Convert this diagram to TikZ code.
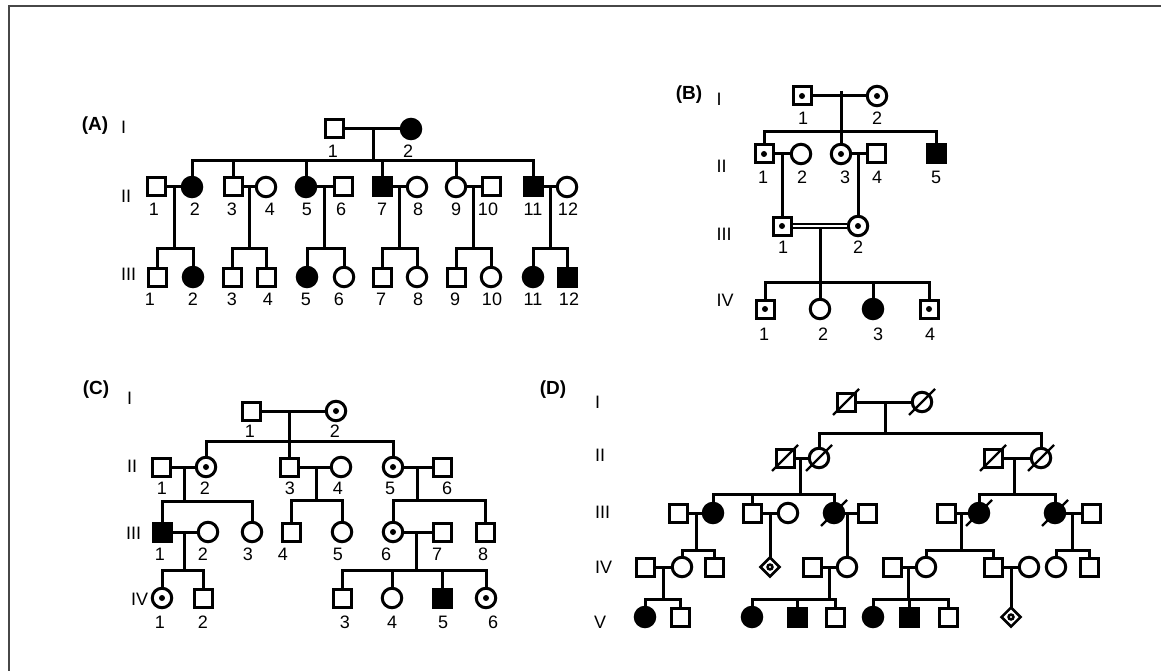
\documentclass[tikz,border=0pt]{standalone}
\usepackage{fontspec}
\setmainfont{Liberation Sans}
\usetikzlibrary{shapes.geometric}
\begin{document}
\begin{tikzpicture}[x=1pt,y=-1pt,
  ln/.style={line width=3pt},
  dbl/.style={draw, double, double distance=2pt, line width=2.1pt, shorten <=1.5pt, shorten >=1.5pt},
  slash/.style={line width=2.3pt},
  sym/.style={draw, line width=3pt, inner sep=0pt, outer sep=0pt},
  sq/.style={sym, rectangle, minimum size=18pt},
  ci/.style={sym, circle, minimum size=19.5pt},
  sqa/.style={sq, fill=black},
  cia/.style={ci, fill=black},
  sqc/.style={sq, path picture={\fill (path picture bounding box.center) circle (3pt);}},
  cic/.style={ci, path picture={\fill (path picture bounding box.center) circle (3pt);}},
  dm/.style={sym, diamond, aspect=1, minimum size=19pt, line width=2.5pt,
    path picture={\fill (path picture bounding box.center) circle (3.8pt);
                  \fill[white] (path picture bounding box.center) circle (1.2pt);}},
  num/.style={inner sep=0pt, font=\fontsize{18}{20}\selectfont},
  gen/.style={num, anchor=west},
  panel/.style={inner sep=0pt, font=\fontsize{19}{21}\selectfont\bfseries},
  frame/.style={draw=black!72, line width=2pt}
]
\useasboundingbox (0,0) rectangle (1161,671);
\draw[frame] (9,671) -- (9,6) -- (1161,6);

% ================= pedigree (A) =================
\node[panel] (Alab) at (95,126) {(A)};
\node[gen] (AgI) at (121,127) {I};
\node[gen] (AgII) at (121,196) {II};
\node[gen] (AgIII) at (121,274) {III};

\node[sq]  (aI1) at (334,129) {};
\node[cia] (aI2) at (411,129) {};
\foreach \n/\x/\s in {1/156/sq, 2/192/cia, 3/233/sq, 4/266/ci, 5/306/cia, 6/343/sq,
                      7/382/sqa, 8/417/ci, 9/456/ci, 10/491/sq, 11/533/sqa, 12/567/ci}
  \node[\s] (aII\n) at (\x,187) {};
\foreach \n/\x/\s in {1/157/sq, 2/193/cia, 3/232/sq, 4/266/sq, 5/307/cia, 6/344/ci,
                      7/382/sq, 8/417/ci, 9/456/sq, 10/491/ci, 11/533/cia, 12/567/sqa}
  \node[\s] (aIII\n) at (\x,277) {};

\coordinate (amI) at (373,129);
\coordinate (asI) at (373,161);
\draw[ln] (aI1) -- (aI2);
\draw[ln] (amI) -- (asI);
\draw[ln] (aII2.north) |- (asI) -| (aII11.north);
\foreach \n in {3,5,7,9} \draw[ln] (aII\n.north) -- (aII\n |- asI);

\foreach \p/\q/\m in {1/2/174, 3/4/249.5, 5/6/324.5, 7/8/399.5, 9/10/473.5, 11/12/550}{
  \draw[ln] (aII\p) -- (aII\q);
  \coordinate (amII\p) at (\m,187);
  \coordinate (asII\p) at (\m,248);
  \draw[ln] (amII\p) -- (asII\p);
  \draw[ln] (aIII\p.north) |- (asII\p) -| (aIII\q.north);
}

\node[num] (aIn1) at (333,151) {1};
\node[num] (aIn2) at (408,151) {2};
\foreach \t/\x in {1/154, 2/195, 3/232, 4/270, 5/307, 6/341, 7/382, 8/418, 9/456, 10/488, 11/533, 12/568}
  \node[num] (aIIn\t) at (\x,209) {\t};
\foreach \t/\x in {1/150, 2/193, 3/232, 4/268, 5/306, 6/339, 7/381, 8/418, 9/455, 10/492, 11/533, 12/569}
  \node[num] (aIIIn\t) at (\x,299) {\t};

% ================= pedigree (B) =================
\begin{scope}[yshift=-29pt]
\node[panel] (Blab) at (689,66) {(B)};
\node[gen] (BgI) at (716.5,70) {I};
\node[gen] (BgII) at (716.5,137) {II};
\node[gen] (BgIII) at (716.5,205) {III};
\node[gen] (BgIV) at (716.5,271) {IV};

\node[sqc] (bI1) at (802,67) {};
\node[cic] (bI2) at (877,67) {};
\node[sqc] (bII1) at (764,125) {};
\node[ci]  (bII2) at (801,125) {};
\node[cic] (bII3) at (841,125) {};
\node[sq]  (bII4) at (876,125) {};
\node[sqa] (bII5) at (936,125) {};
\node[sqc] (bIII1) at (782,197) {};
\node[cic] (bIII2) at (858,197) {};
\node[sqc] (bIV1) at (765,280) {};
\node[ci]  (bIV2) at (820,280) {};
\node[cia] (bIV3) at (873,280) {};
\node[sqc] (bIV4) at (929,280) {};

\coordinate (bmI) at (841,62);
\coordinate (bsI) at (841,103);
\draw[ln] (bI1) -- (bI2);
\draw[ln] (bmI) -- (bsI);
\draw[ln] (bII1.north) |- (bsI) -| (bII5.north);
\draw[ln] (bsI) -- (bII3.north);

\draw[ln] (bII1) -- (bII2);
\coordinate (bmII1) at (782,125);
\draw[ln] (bmII1) -- (bIII1.north);
\draw[ln] (bII3) -- (bII4);
\coordinate (bmII3) at (858,125);
\draw[ln] (bmII3) -- (bIII2.north);

\draw[dbl] (bIII1) -- (bIII2);
\coordinate (bmIII) at (820,200);
\coordinate (bsIII) at (820,253);
\draw[ln] (bmIII) -- (bIV2.north);
\draw[ln] (bIV1.north) |- (bsIII) -| (bIV4.north);
\draw[ln] (bIV3.north) -- (bIV3 |- bsIII);

\node[num] (bIn1) at (803,89) {1};
\node[num] (bIn2) at (877,89) {2};
\foreach \t/\x in {1/763, 2/802, 3/845, 4/877, 5/936}
  \node[num] (bIIn\t) at (\x,148) {\t};
\node[num] (bIIIn1) at (783,218) {1};
\node[num] (bIIIn2) at (858,218) {2};
\foreach \t/\x in {1/764, 2/823, 3/878, 4/930}
  \node[num] (bIVn\t) at (\x,305) {\t};
\end{scope}

% ================= pedigree (C) =================
\node[panel] (Clab) at (96,390) {(C)};
\node[gen] (CgI) at (127,398) {I};
\node[gen] (CgII) at (127,466) {II};
\node[gen] (CgIII) at (126,533) {III};
\node[gen] (CgIV) at (131,599) {IV};

\node[sq]  (cI1) at (251,411) {};
\node[cic] (cI2) at (336,411) {};
\foreach \n/\x/\s in {1/161/sq, 2/206/cic, 3/289/sq, 4/341/ci, 5/393/cic, 6/442/sq}
  \node[\s] (cII\n) at (\x,467) {};
\foreach \n/\x/\s in {1/162/sqa, 2/208/ci, 3/252/ci, 4/291/sq, 5/342/ci, 6/393/cic, 7/442/sq, 8/485/sq}
  \node[\s] (cIII\n) at (\x,532) {};
\foreach \n/\x/\s in {1/162/cic, 2/203/sq, 3/342/sq, 4/392/ci, 5/442/sqa, 6/486/cic}
  \node[\s] (cIV\n) at (\x,598) {};

\coordinate (cmI) at (289,411);
\coordinate (csI) at (289,441);
\draw[ln] (cI1) -- (cI2);
\draw[ln] (cmI) -- (csI);
\draw[ln] (cII2.north) |- (csI) -| (cII5.north);
\draw[ln] (csI) -- (cII3.north);

\draw[ln] (cII1) -- (cII2);
\coordinate (cmII1) at (184,467);
\coordinate (csII1) at (184,501);
\draw[ln] (cmII1) -- (csII1);
\draw[ln] (cIII1.north) |- (csII1) -| (cIII3.north);

\draw[ln] (cII3) -- (cII4);
\coordinate (cmII3) at (316,467);
\coordinate (csII3) at (316,500);
\draw[ln] (cmII3) -- (csII3);
\draw[ln] (cIII4.north) |- (csII3) -| (cIII5.north);

\draw[ln] (cII5) -- (cII6);
\coordinate (cmII5) at (417,467);
\coordinate (csII5) at (417,500);
\draw[ln] (cmII5) -- (csII5);
\draw[ln] (cIII6.north) |- (csII5) -| (cIII8.north);

\draw[ln] (cIII1) -- (cIII2);
\coordinate (cmIII1) at (184,532);
\coordinate (csIII1) at (184,570);
\draw[ln] (cmIII1) -- (csIII1);
\draw[ln] (cIV1.north) |- (csIII1) -| (cIV2.north);

\draw[ln] (cIII6) -- (cIII7);
\coordinate (cmIII6) at (416,532);
\coordinate (csIII6) at (416,570);
\draw[ln] (cmIII6) -- (csIII6);
\draw[ln] (cIV3.north) |- (csIII6) -| (cIV6.north);
\foreach \n in {4,5} \draw[ln] (cIV\n.north) -- (cIV\n |- csIII6);

\node[num] (cIn1) at (250,431) {1};
\node[num] (cIn2) at (335,431) {2};
\foreach \t/\x in {1/162, 2/205, 3/290, 4/338, 5/390, 6/447}
  \node[num] (cIIn\t) at (\x,488) {\t};
\foreach \t/\x in {1/160, 2/203, 3/248, 4/283, 5/338, 6/386, 7/437, 8/483}
  \node[num] (cIIIn\t) at (\x,554) {\t};
\foreach \t/\x in {1/160, 2/203, 3/345, 4/392, 5/443, 6/493}
  \node[num] (cIVn\t) at (\x,622) {\t};

% ================= pedigree (D) =================
\node[panel] (Dlab) at (553,390) {(D)};
\node[gen] (DgI) at (595,402) {I};
\node[gen] (DgII) at (595,455) {II};
\node[gen] (DgIII) at (595,512) {III};
\node[gen] (DgIV) at (595,567) {IV};
\node[gen] (DgV) at (594,622) {V};

\node[sq] (dI1) at (846,402) {};
\node[ci] (dI2) at (922,402) {};
\foreach \n/\x/\s in {1/785/sq, 2/819/ci, 3/993/sq, 4/1041/ci}
  \node[\s] (dII\n) at (\x,458) {};
\foreach \n/\x/\s in {1/678/sq, 2/713/cia, 3/752/sq, 4/788/ci, 5/834/cia, 6/867/sq,
                      7/946/sq, 8/979/cia, 9/1055/cia, 10/1091/sq}
  \node[\s] (dIII\n) at (\x,513) {};
\foreach \n/\x/\s in {1/645/sq, 2/682/ci, 3/714/sq, 4/770/dm, 5/812/sq, 6/847/ci,
                      7/892/sq, 8/926/ci, 9/993/sq, 10/1029/ci, 11/1056/ci, 12/1089/sq}
  \node[\s] (dIV\n) at (\x,567) {};
\foreach \n/\x/\s in {1/645/cia, 2/680/sq, 3/752/cia, 4/797/sqa, 5/835/sq,
                      6/873/cia, 7/909/sqa, 8/948/sq, 9/1011/dm}
  \node[\s] (dV\n) at (\x,617) {};

% deceased
\foreach \n in {dI1, dI2, dII1, dII2, dII3, dII4, dIII5, dIII8, dIII9}
  \draw[slash] ([shift={(-13,13)}]\n.center) -- ([shift={(13,-13)}]\n.center);

\draw[ln] (dI1) -- (dI2);
\coordinate (dmI) at (885,402);
\coordinate (dsI) at (885,433);
\draw[ln] (dmI) -- (dsI);
\draw[ln] (dII2.north) |- (dsI) -| (dII4.north);

\draw[ln] (dII1) -- (dII2);
\coordinate (dmII1) at (800,458);
\coordinate (dsII1) at (800,494);
\draw[ln] (dmII1) -- (dsII1);
\draw[ln] (dIII2.north) |- (dsII1) -| (dIII5.north);
\draw[ln] (dIII3.north) -- (dIII3 |- dsII1);

\draw[ln] (dII3) -- (dII4);
\coordinate (dmII3) at (1014,458);
\coordinate (dsII3) at (1014,494);
\draw[ln] (dmII3) -- (dsII3);
\draw[ln] (dIII8.north) |- (dsII3) -| (dIII9.north);

\draw[ln] (dIII1) -- (dIII2);
\coordinate (dmIII1) at (696,513);
\coordinate (dsIII1) at (696,550);
\draw[ln] (dmIII1) -- (dsIII1);
\draw[ln] (dIV2.north) |- (dsIII1) -| (dIV3.north);

\draw[ln] (dIII3) -- (dIII4);
\coordinate (dmIII3) at (770,513);
\draw[ln] (dmIII3) -- (dIV4.north);

\draw[ln] (dIII5) -- (dIII6);
\coordinate (dmIII5) at (847,513);
\draw[ln] (dmIII5) -- (dIV6.north);

\draw[ln] (dIII7) -- (dIII8);
\coordinate (dmIII7) at (961,513);
\coordinate (dsIII7) at (961,550);
\draw[ln] (dmIII7) -- (dsIII7);
\draw[ln] (dIV8.north) |- (dsIII7) -| (dIV9.north);

\draw[ln] (dIII9) -- (dIII10);
\coordinate (dmIII9) at (1072,513);
\coordinate (dsIII9) at (1072,550);
\draw[ln] (dmIII9) -- (dsIII9);
\draw[ln] (dIV11.north) |- (dsIII9) -| (dIV12.north);

\draw[ln] (dIV1) -- (dIV2);
\coordinate (dmIV1) at (663,567);
\coordinate (dsIV1) at (663,599);
\draw[ln] (dmIV1) -- (dsIV1);
\draw[ln] (dV1.north) |- (dsIV1) -| (dV2.north);

\draw[ln] (dIV5) -- (dIV6);
\coordinate (dmIV5) at (829,567);
\coordinate (dsIV5) at (829,599);
\draw[ln] (dmIV5) -- (dsIV5);
\draw[ln] (dV3.north) |- (dsIV5) -| (dV5.north);
\draw[ln] (dV4.north) -- (dV4 |- dsIV5);

\draw[ln] (dIV7) -- (dIV8);
\coordinate (dmIV7) at (908,567);
\coordinate (dsIV7) at (908,599);
\draw[ln] (dmIV7) -- (dsIV7);
\draw[ln] (dV6.north) |- (dsIV7) -| (dV8.north);
\draw[ln] (dV7.north) -- (dV7 |- dsIV7);

\draw[ln] (dIV9) -- (dIV10);
\coordinate (dmIV9) at (1011,567);
\draw[ln] (dmIV9) -- (dV9.north);

\end{tikzpicture}
\end{document}
